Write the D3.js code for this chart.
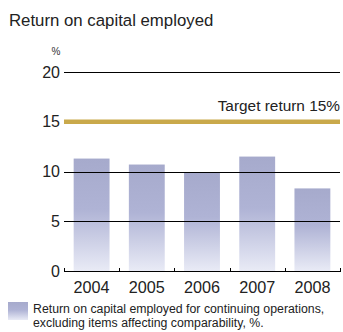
<!DOCTYPE html>
<html><head><meta charset="utf-8">
<script src="https://cdn.jsdelivr.net/npm/d3@7"></script>
<style>body{margin:0;background:#fff}svg{display:block;font-family:"Liberation Sans",Arial,sans-serif}</style>
</head><body>
<svg id="c" width="343" height="332"></svg>
<script>
const years = ["2004","2005","2006","2007","2008"];
const roce = [11.3, 10.7, 9.9, 11.5, 8.3];
const yTicks = [0, 5, 10, 15, 20];
const gridValues = [5, 10, 20];
const targetValue = 15;
const titleText = "Return on capital employed";
const targetLabel = "Target return 15%";
const legendLines = ["Return on capital employed for continuing operations,", "excluding items affecting comparability, %."];

const svg = d3.select("#c");
const x = d3.scaleBand().domain(years).range([64, 340]).paddingInner(0.35).paddingOuter(0.175);
const y = d3.scaleLinear().domain([0, 20]).range([271, 72]);

const defs = svg.append("defs");
const g = defs.append("linearGradient").attr("id","bg").attr("x1",0).attr("y1",0).attr("x2",0).attr("y2",1);
g.append("stop").attr("offset","0%").attr("stop-color","#a6aacc");
g.append("stop").attr("offset","45%").attr("stop-color","#afb3d5");
g.append("stop").attr("offset","100%").attr("stop-color","#e9ebf6");

svg.append("text").attr("x",9).attr("y",26).attr("font-size",16.8).attr("fill","#222").text(titleText);
svg.append("text").attr("x",56).attr("y",55).attr("font-size",10).attr("fill","#333").attr("text-anchor","middle").text("%");

// bars
svg.selectAll("rect.bar").data(roce).join("rect").attr("class","bar")
  .attr("x",(d,i)=>x(years[i])).attr("width",x.bandwidth())
  .attr("y",d=>y(d)).attr("height",d=>y(0)-y(d)).attr("fill","url(#bg)");

// gridlines
svg.selectAll("line.grid").data(gridValues).join("line").attr("class","grid")
  .attr("x1",64).attr("x2",340).attr("y1",d=>Math.round(y(d))+0.5).attr("y2",d=>Math.round(y(d))+0.5)
  .attr("stroke","#000").attr("stroke-width",1);

// target line
svg.append("line").attr("x1",64).attr("x2",340).attr("y1",y(targetValue)).attr("y2",y(targetValue))
  .attr("stroke","#c9a94b").attr("stroke-width",4.5);
svg.append("text").attr("x",340).attr("y",111).attr("text-anchor","end").attr("font-size",15.4).attr("fill","#222").text(targetLabel);

// y labels
svg.selectAll("text.yl").data(yTicks).join("text").attr("class","yl")
  .attr("x",60).attr("y",d=>y(d)+5.5).attr("text-anchor","end").attr("font-size",16).attr("fill","#222").text(d=>d);

// x axis
const xAxis = svg.append("g");
xAxis.append("line").attr("x1",64).attr("x2",340).attr("y1",Math.round(y(0))+0.5).attr("y2",Math.round(y(0))+0.5).attr("stroke","#000");
const bounds = [64].concat(years.map(d=>x(d)+x.bandwidth()+x.step()*x.paddingInner()/2));
bounds[bounds.length-1] = 339.5;
xAxis.selectAll("line.t").data(bounds).join("line").attr("class","t")
  .attr("x1",d=>Math.round(d)+0.5).attr("x2",d=>Math.round(d)+0.5)
  .attr("y1",Math.round(y(0))+1).attr("y2",Math.round(y(0))-3).attr("stroke","#000");
xAxis.selectAll("text").data(years).join("text")
  .attr("x",d=>x(d)+x.bandwidth()/2).attr("y",293).attr("text-anchor","middle").attr("font-size",16.2).attr("fill","#222").text(d=>d);

// legend
svg.append("rect").attr("x",8).attr("y",302).attr("width",20).attr("height",18).attr("fill","url(#bg)");
svg.selectAll("text.lg").data(legendLines).join("text").attr("class","lg")
  .attr("x",33).attr("y",(d,i)=>313+i*14).attr("font-size",12.3).attr("fill","#222").text(d=>d);
</script>
</body></html>
